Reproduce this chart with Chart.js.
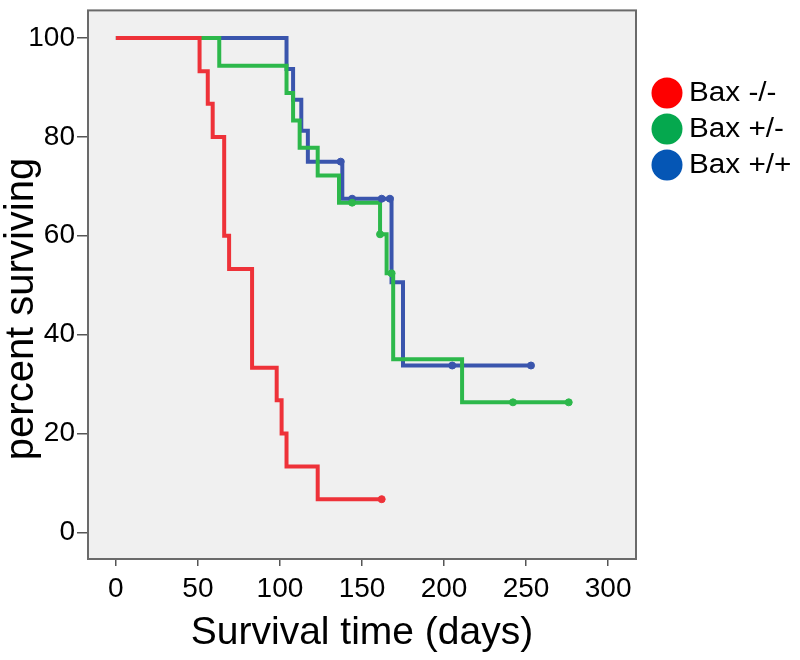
<!DOCTYPE html>
<html>
<head>
<meta charset="utf-8">
<script src="https://cdn.jsdelivr.net/npm/chart.js@4.4.0/dist/chart.umd.min.js"></script>
<style>
  html, body { margin: 0; background: #fff; }
  #wrap { width: 800px; height: 660px; }
</style>
</head>
<body>
<div id="wrap"><canvas id="km"></canvas></div>
<script>
// Kaplan-Meier steps (days, percent surviving)
const seriesNames = ['Bax -/-', 'Bax +/-', 'Bax +/+'];

const redTimes = [0, 51, 56, 59, 66, 69, 83, 98, 101, 104, 123, 162];
const redSurv = [100, 93.3, 86.7, 80, 60, 53.3, 33.3, 26.7, 20, 13.3, 6.7, 6.7];
const redCensor = [162];

const greenTimes = [0, 63, 104, 108, 112, 123, 136, 161, 165, 169, 211, 276];
const greenSurv = [100, 94.4, 88.9, 83.3, 77.8, 72.2, 66.7, 60.3, 52.4, 35.0, 26.3, 26.3];
const greenCensor = [144, 161, 168, 242, 276];

const blueTimes = [0, 104, 108, 113, 117, 138, 168, 175, 253];
const blueSurv = [100, 93.75, 87.5, 81.25, 75, 67.5, 50.6, 33.75, 33.75];
const blueCensor = [137, 144, 162, 167, 205, 253];

const xTicks = [0, 50, 100, 150, 200, 250, 300];
const yTicks = [0, 20, 40, 60, 80, 100];

const yTitle = 'percent surviving';

const lineColors = ['#ee3239', '#2db84b', '#3a55ad'];
const legendColors = ['#fe0000', '#05a84e', '#0556b5'];

const FONT = "'Liberation Sans', Arial, sans-serif";

// value of the step curve at time t
function survAt(times, surv, t) {
    let v = surv[0];
    for (let i = 0; i < times.length; i++) {
        if (times[i] <= t) v = surv[i];
    }
    return v;
}

function curve(times, surv, i) {
    return {
        label: seriesNames[i],
        data: times.map((t, k) => ({ x: t, y: surv[k] })),
        showLine: true,
        stepped: true,
        borderColor: lineColors[i],
        borderWidth: 4,
        pointRadius: 0,
        fill: false
    };
}

function censors(times, surv, cens, i) {
    return {
        label: seriesNames[i] + ' censored',
        data: cens.map(t => ({ x: t, y: survAt(times, surv, t) })),
        showLine: false,
        pointStyle: 'circle',
        pointRadius: 3.5,
        backgroundColor: lineColors[i],
        borderColor: lineColors[i],
        borderWidth: 1
    };
}

// grey plot panel + frame, y title and the legend on the right
const panel = {
    id: 'panel',
    beforeDraw(chart) {
        const { ctx, chartArea: a } = chart;
        ctx.save();
        ctx.fillStyle = '#f0f0f0';
        ctx.fillRect(a.left, a.top, a.right - a.left, a.bottom - a.top);
        ctx.restore();
    },
    afterDraw(chart) {
        const { ctx, chartArea: a } = chart;
        ctx.save();
        ctx.strokeStyle = '#6a6a6a';
        ctx.lineWidth = 2;
        ctx.strokeRect(a.left, a.top, a.right - a.left, a.bottom - a.top);

        // y axis title, sits a bit below the middle of the panel
        ctx.save();
        ctx.translate(33, 309);
        ctx.rotate(-Math.PI / 2);
        ctx.font = '40px ' + FONT;
        ctx.textAlign = 'center';
        ctx.textBaseline = 'alphabetic';
        ctx.fillStyle = '#000';
        ctx.fillText(yTitle, 0, 0);
        ctx.restore();

        ctx.font = '27px ' + FONT;
        ctx.textBaseline = 'middle';
        seriesNames.forEach((name, i) => {
            const cy = 93 + i * 36;
            ctx.beginPath();
            ctx.fillStyle = legendColors[i];
            ctx.arc(667, cy, 15.5, 0, Math.PI * 2);
            ctx.fill();
            ctx.save();
            ctx.translate(689, cy + 1);
            ctx.scale(1.1, 1);
            ctx.fillStyle = '#000';
            ctx.fillText(name, 0, 0);
            ctx.restore();
        });
        ctx.restore();
    }
};

new Chart(document.getElementById('km'), {
    type: 'scatter',
    data: {
        datasets: [
            censors(redTimes, redSurv, redCensor, 0),
            censors(greenTimes, greenSurv, greenCensor, 1),
            censors(blueTimes, blueSurv, blueCensor, 2),
            curve(redTimes, redSurv, 0),
            curve(greenTimes, greenSurv, 1),
            curve(blueTimes, blueSurv, 2)
        ]
    },
    options: {
        responsive: true,
        maintainAspectRatio: false,
        animation: false,
        layout: { padding: { top: 9, right: 164, left: 0, bottom: 0 } },
        plugins: {
            legend: { display: false },
            tooltip: { enabled: false }
        },
        scales: {
            x: {
                type: 'linear',
                min: -17,
                max: 317,
                afterBuildTicks: s => { s.ticks = xTicks.map(v => ({ value: v })); },
                afterFit: s => { s.height = 101; },
                grid: { drawOnChartArea: false, drawTicks: true, tickLength: 7, color: '#555', lineWidth: 1.5 },
                border: { display: false },
                ticks: { font: { family: FONT, size: 28 }, color: '#000', padding: 6, maxRotation: 0 },
                title: {
                    display: true,
                    text: 'Survival time (days)',
                    font: { family: FONT, size: 39, lineHeight: 1 },
                    color: '#000',
                    padding: { top: 0, bottom: 7 }
                }
            },
            y: {
                type: 'linear',
                min: -5.4,
                max: 105.6,
                afterBuildTicks: s => { s.ticks = yTicks.map(v => ({ value: v })); },
                afterFit: s => { s.width = 88; },
                grid: { drawOnChartArea: false, drawTicks: true, tickLength: 11, color: '#555', lineWidth: 1.5 },
                border: { display: false },
                ticks: { font: { family: FONT, size: 28, lineHeight: 0.6 }, color: '#000', padding: 2 }
            }
        }
    },
    plugins: [panel]
});
</script>
</body>
</html>
